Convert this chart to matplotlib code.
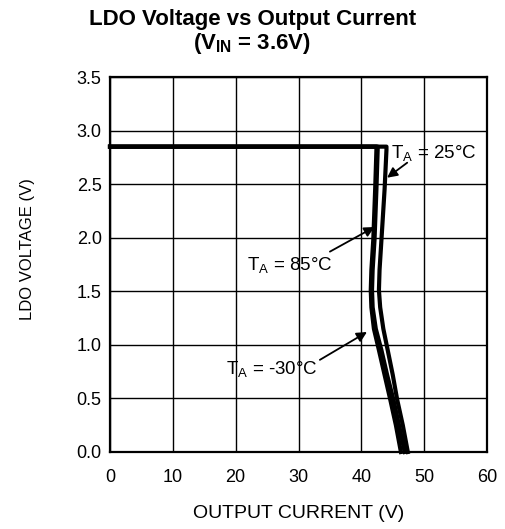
import matplotlib
matplotlib.use("Agg")
from matplotlib import pyplot as plt

plt.rcParams['font.family'] = ['Liberation Sans', 'DejaVu Sans']
plt.rcParams['mathtext.fontset'] = 'custom'
plt.rcParams['mathtext.rm'] = 'Liberation Sans'
plt.rcParams['mathtext.bf'] = 'Liberation Sans:bold'

# -- datos -- #
corriente_85 = [0, 42.4, 42.4, 42.2, 41.9, 41.6, 41.5, 41.6, 42.0, 42.8, 43.7, 44.6, 45.5, 46.3]
voltaje_85 = [2.85, 2.85, 2.82, 2.45, 1.98, 1.70, 1.51, 1.35, 1.15, 0.95, 0.72, 0.49, 0.25, 0.0]

corriente_m30 = [0, 42.6, 42.6, 42.4, 42.1, 41.8, 41.7, 41.8, 42.3, 43.2, 44.1, 45.1, 46.0, 46.9]
voltaje_m30 = [2.85, 2.85, 2.82, 2.45, 1.98, 1.70, 1.51, 1.35, 1.15, 0.95, 0.72, 0.49, 0.25, 0.0]

corriente_25 = [0, 44.0, 44.0, 43.7, 43.2, 42.9, 42.8, 43.0, 43.5, 44.2, 45.0, 45.7, 46.6, 47.4]
voltaje_25 = [2.85, 2.85, 2.82, 2.45, 1.98, 1.70, 1.51, 1.35, 1.15, 0.95, 0.72, 0.49, 0.25, 0.0]

xticks = [0, 10, 20, 30, 40, 50, 60]
yticks = [0.0, 0.5, 1.0, 1.5, 2.0, 2.5, 3.0, 3.5]

fig = plt.figure(figsize=(5.05, 5.29), dpi=100)
ax = fig.add_axes([110 / 505, 1 - 452 / 529, 377 / 505, 375 / 529])

for cx, cv in [(corriente_85, voltaje_85), (corriente_m30, voltaje_m30), (corriente_25, voltaje_25)]:
    ax.plot(cx, cv, color="black", linewidth=3.0, solid_joinstyle="round", clip_on=False)

ax.set_xlim(0, 60)
ax.set_ylim(0, 3.5)
ax.set_xticks(xticks)
ax.set_yticks(yticks)
ax.set_yticklabels([f"{v:.1f}" for v in yticks])
ax.grid(True, color="black", linewidth=1.0)
ax.tick_params(length=0, labelsize=13)
ax.tick_params(axis="x", pad=12)
ax.tick_params(axis="y", pad=6)
for s in ax.spines.values():
    s.set_linewidth(1.6)

ax.set_xlabel("OUTPUT CURRENT (V)", fontsize=14)
ax.xaxis.set_label_coords(0.5, -0.14)
ax.set_ylabel("LDO VOLTAGE (V)", fontsize=12)
ax.yaxis.set_label_coords(-0.2, 0.54)

fig.text(0.5, 1 - 20 / 529, "LDO Voltage vs Output Current", ha="center", va="center",
         fontsize=16, fontweight="bold")
fig.text(0.5, 1 - 43 / 529, r"(V$_\mathbf{IN}$ = 3.6V)", ha="center", va="center",
         fontsize=16, fontweight="bold")

flecha = dict(arrowstyle="-|>", color="black", lw=1.3, mutation_scale=15, shrinkA=0, shrinkB=0)
ax.annotate(r"T$_\mathregular{A}$ = 25°C", xy=(44.1, 2.56), xytext=(44.8, 2.78),
            fontsize=13.5, ha="left", va="center")
ax.annotate("", xy=(44.1, 2.56), xytext=(47.3, 2.70), arrowprops=flecha)
ax.annotate(r"T$_\mathregular{A}$ = 85°C", xy=(42.3, 2.10), xytext=(28.6, 1.74),
            fontsize=13.5, ha="center", va="center")
ax.annotate("", xy=(42.1, 2.10), xytext=(35.0, 1.87), arrowprops=flecha)
ax.annotate(r"T$_\mathregular{A}$ = -30°C", xy=(40.9, 1.12), xytext=(25.8, 0.77),
            fontsize=13.5, ha="center", va="center")
ax.annotate("", xy=(40.9, 1.12), xytext=(33.4, 0.86), arrowprops=flecha)

plt.savefig("out.png", dpi=100)
